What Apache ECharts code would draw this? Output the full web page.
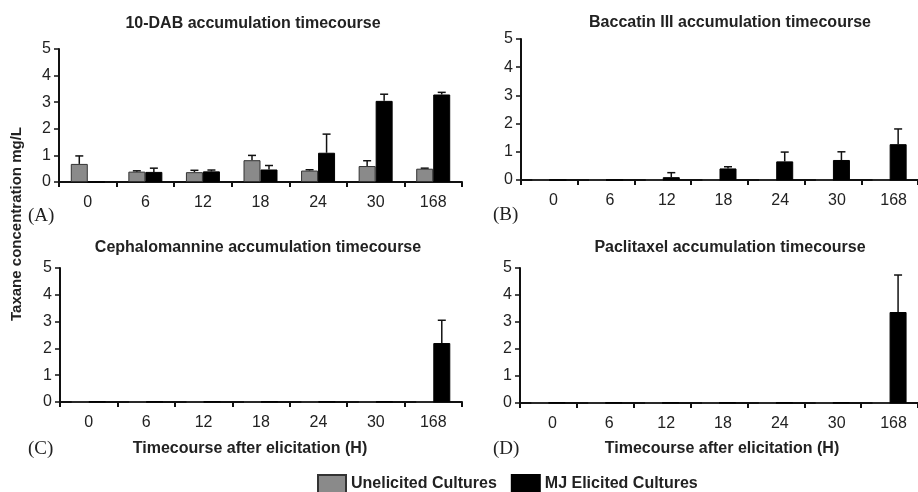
<!DOCTYPE html>
<html><head><meta charset="utf-8">
<script src="https://cdn.jsdelivr.net/npm/echarts@6/dist/echarts.min.js"></script>
<style>html,body{margin:0;padding:0;background:#fff}#c{width:918px;height:492px}</style>
</head><body><div id="c"></div>
<script>
const categories = ['0','6','12','18','24','30','168'];
const yTicks = [0,1,2,3,4,5];
const seriesNames = ['Unelicited Cultures','MJ Elicited Cultures'];
const panelTitles = ['10-DAB accumulation timecourse','Baccatin III accumulation timecourse','Cephalomannine accumulation timecourse','Paclitaxel accumulation timecourse'];
const panelLetters = ['(A)','(B)','(C)','(D)'];
const xName = 'Timecourse after elicitation (H)';
const yName = 'Taxane concentration mg/L';

const dabUnel    = [0.68,0.39,0.37,0.82,0.43,0.60,0.50];
const dabUnelErr = [0.30,0.03,0.07,0.18,0.03,0.20,0.02];
const dabMJ      = [0,0.38,0.40,0.47,1.10,3.05,3.29];
const dabMJErr   = [0,0.14,0.05,0.15,0.70,0.25,0.08];

const bacUnel    = [0,0,0,0,0,0,0];
const bacUnelErr = [0,0,0,0,0,0,0];
const bacMJ      = [0,0,0.10,0.41,0.66,0.71,1.27];
const bacMJErr   = [0,0,0.16,0.06,0.33,0.29,0.54];

const cepUnel    = [0,0,0,0,0,0,0];
const cepUnelErr = [0,0,0,0,0,0,0];
const cepMJ      = [0.02,0.02,0.02,0.02,0.02,0.02,2.20];
const cepMJErr   = [0,0,0,0,0,0,0.85];

const pacUnel    = [0,0,0,0,0,0,0];
const pacUnelErr = [0,0,0,0,0,0,0];
const pacMJ      = [0.02,0.02,0.02,0.02,0.02,0.02,3.37];
const pacMJErr   = [0,0,0,0,0,0,1.37];

const panels = [
  {u:dabUnel,ue:dabUnelErr,m:dabMJ,me:dabMJErr},
  {u:bacUnel,ue:bacUnelErr,m:bacMJ,me:bacMJErr},
  {u:cepUnel,ue:cepUnelErr,m:cepMJ,me:cepMJErr},
  {u:pacUnel,ue:pacUnelErr,m:pacMJ,me:pacMJErr}
];

const grids = [
  {left:59, top:49, width:403, height:133},
  {left:521, top:39, width:404, height:141},
  {left:60, top:268, width:402, height:134},
  {left:520, top:268, width:404, height:135}
];
const labelShift = [0,8,0,8];
const BW = 17;
const FONT = '"Liberation Sans", Arial, sans-serif';

const xAxes = grids.map((g,i)=>({
  type:'category', gridIndex:i, data:categories, boundaryGap:true,
  axisLine:{lineStyle:{color:'#111',width:2}},
  axisTick:{show:true,length:5,lineStyle:{color:'#111',width:2}},
  axisLabel:{color:'#222',fontSize:16,fontFamily:FONT,margin:13,padding:[0,0,0,labelShift[i]]}
}));
const yAxes = grids.map((g,i)=>({
  type:'value', gridIndex:i, min:yTicks[0], max:yTicks[yTicks.length-1], interval:1,
  axisLine:{show:true,lineStyle:{color:'#111',width:2}},
  axisTick:{show:true,length:5,lineStyle:{color:'#111',width:1.5}},
  splitLine:{show:false},
  axisLabel:{color:'#222',fontSize:16,fontFamily:FONT,margin:8}
}));

function errSeries(i, vals, errs, side){
  return {
    type:'custom', name:'err'+i+side, xAxisIndex:i, yAxisIndex:i, z:1,
    data: vals.map((v,k)=>[k,v,errs[k]]),
    renderItem:function(params, api){
      const e = api.value(2);
      if(!e) return null;
      const v = api.value(1);
      const p0 = api.coord([api.value(0), v]);
      const p1 = api.coord([api.value(0), v+e]);
      const x = p0[0] + side*BW/2;
      return {type:'group', children:[
        {type:'line', shape:{x1:x,y1:p0[1],x2:x,y2:p1[1]}, style:{stroke:'#111',lineWidth:1.5}},
        {type:'line', shape:{x1:x-4,y1:p1[1],x2:x+4,y2:p1[1]}, style:{stroke:'#111',lineWidth:1.5}}
      ]};
    }
  };
}

const series = [];
panels.forEach((p,i)=>{
  series.push({type:'bar', name:seriesNames[0], xAxisIndex:i, yAxisIndex:i, data:p.u, barWidth:BW, barGap:'0%',
    itemStyle:{color:'#8a8a8a', borderColor:'#333', borderWidth:1}, z:2});
  series.push({type:'bar', name:seriesNames[1], xAxisIndex:i, yAxisIndex:i, data:p.m, barWidth:BW, barGap:'0%',
    itemStyle:{color:'#000', borderColor:'#000', borderWidth:1}, z:2});
  series.push(errSeries(i,p.u,p.ue,-1));
  series.push(errSeries(i,p.m,p.me,1));
});

const titlePos = [[253,24],[730,23],[258,248],[730,248]];
const letterPos = [[28,216],[493,215],[28,449],[493,449]];
const graphic = [];
panelTitles.forEach((t,i)=>graphic.push({type:'text', x:titlePos[i][0], y:titlePos[i][1], style:{text:t, textAlign:'center', textVerticalAlign:'middle', font:'bold 16px '+FONT, fill:'#222'}}));
panelLetters.forEach((t,i)=>graphic.push({type:'text', x:letterPos[i][0], y:letterPos[i][1], style:{text:t, textAlign:'left', textVerticalAlign:'middle', font:'19px "Liberation Serif", "Times New Roman", serif', fill:'#222'}}));
[[250,449],[722,449]].forEach(pos=>graphic.push({type:'text', x:pos[0], y:pos[1], style:{text:xName, textAlign:'center', textVerticalAlign:'middle', font:'bold 16px '+FONT, fill:'#222'}}));
graphic.push({type:'text', x:17, y:224, rotation:Math.PI/2, style:{text:yName, textAlign:'center', textVerticalAlign:'middle', font:'bold 15px '+FONT, fill:'#222'}});

const chart = echarts.init(document.getElementById('c'), null, {renderer:'canvas'});
chart.setOption({
  animation:false,
  backgroundColor:'#fff',
  grid:grids,
  xAxis:xAxes, yAxis:yAxes,
  legend:{data:seriesNames, left:312, top:469, itemWidth:28, itemHeight:18, itemGap:14, icon:'rect',
    textStyle:{fontWeight:'bold', fontSize:16, fontFamily:FONT, color:'#222'}},
  graphic:graphic,
  series:series
});
</script></body></html>
